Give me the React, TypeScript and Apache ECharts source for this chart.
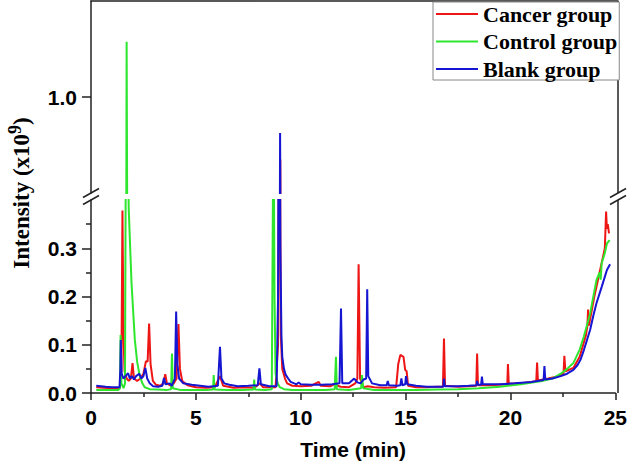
import React, { useEffect, useRef } from "react";
import * as echarts from "echarts";

const seriesNames = ["Cancer group", "Control group", "Blank group"];
const seriesColors = ["#ee1515", "#2ee62e", "#1515d2"];
const yLowerTicks = [0, 0.1, 0.2, 0.3];
const yUpperTicks = [1.0];

// [time (min), intensity (x10^9)]
const cancerGroup: number[][] = [
  [0.25, 0.012], [0.6, 0.011], [1.0, 0.01], [1.38, 0.01], [1.45, 0.05], [1.5, 0.378], [1.55, 0.12],
  [1.6, 0.045], [1.7, 0.03], [1.8, 0.025], [1.9, 0.03], [1.98, 0.062], [2.05, 0.03], [2.2, 0.025],
  [2.35, 0.03], [2.5, 0.04], [2.62, 0.066], [2.7, 0.065], [2.77, 0.144], [2.84, 0.06], [2.95, 0.025],
  [3.1, 0.017], [3.3, 0.015], [3.45, 0.02], [3.54, 0.039], [3.62, 0.02], [3.8, 0.015], [3.95, 0.02],
  [4.08, 0.03], [4.17, 0.143], [4.24, 0.05], [4.35, 0.025], [4.6, 0.016], [5.0, 0.012], [5.5, 0.011],
  [5.9, 0.012], [6.15, 0.035], [6.3, 0.015], [6.8, 0.011], [7.3, 0.012], [7.8, 0.011], [8.05, 0.02],
  [8.2, 0.012], [8.8, 0.012], [8.92, 0.1], [8.98, 0.87], [9.05, 0.12], [9.12, 0.05], [9.25, 0.03],
  [9.35, 0.02], [9.6, 0.015], [10.0, 0.014], [10.5, 0.015], [10.86, 0.023], [10.95, 0.015], [11.4, 0.014],
  [11.6, 0.018], [11.9, 0.013], [12.3, 0.012], [12.6, 0.02], [12.7, 0.03], [12.76, 0.267], [12.83, 0.03],
  [13.0, 0.012], [13.2, 0.014], [13.5, 0.012], [14.0, 0.011], [14.55, 0.012], [14.65, 0.06], [14.75, 0.079],
  [14.9, 0.075], [14.98, 0.048], [15.05, 0.045], [15.12, 0.015], [15.5, 0.012], [16.0, 0.012], [16.5, 0.013],
  [16.78, 0.013], [16.83, 0.113], [16.88, 0.015], [17.5, 0.013], [18.0, 0.014], [18.37, 0.015], [18.41, 0.082],
  [18.45, 0.016], [19.0, 0.016], [19.85, 0.018], [19.88, 0.06], [19.92, 0.019], [20.5, 0.02], [21.0, 0.023],
  [21.23, 0.025], [21.27, 0.063], [21.31, 0.026], [21.8, 0.03], [22.3, 0.035], [22.53, 0.04], [22.57, 0.077],
  [22.62, 0.045], [23.0, 0.052], [23.3, 0.075], [23.6, 0.12], [23.67, 0.14], [23.7, 0.173], [23.74, 0.14],
  [24.0, 0.2], [24.2, 0.24], [24.4, 0.28], [24.5, 0.3], [24.56, 0.376], [24.6, 0.34], [24.64, 0.35], [24.7, 0.331],
];

const controlGroup: number[][] = [
  [0.25, 0.006], [0.8, 0.006], [1.3, 0.006], [1.38, 0.01], [1.41, 0.12], [1.45, 0.02], [1.55, 0.01],
  [1.62, 0.02], [1.66, 0.5], [1.69, 1.115], [1.73, 0.6], [1.8, 0.38], [1.93, 0.23], [2.09, 0.11],
  [2.2, 0.065], [2.32, 0.036], [2.45, 0.02], [2.56, 0.012], [2.8, 0.008], [3.2, 0.007], [3.6, 0.006],
  [3.82, 0.008], [3.86, 0.082], [3.9, 0.01], [4.3, 0.006], [5.0, 0.006], [5.5, 0.006], [5.82, 0.007],
  [5.85, 0.037], [5.89, 0.007], [6.5, 0.006], [7.2, 0.006], [7.75, 0.007], [7.78, 0.028], [7.82, 0.007],
  [8.3, 0.006], [8.62, 0.008], [8.66, 0.3], [8.7, 0.62], [8.75, 0.2], [8.8, 0.04], [8.9, 0.02],
  [9.0, 0.012], [9.2, 0.008], [9.6, 0.006], [10.5, 0.006], [11.2, 0.006], [11.62, 0.008], [11.68, 0.075],
  [11.72, 0.008], [12.3, 0.006], [12.88, 0.01], [12.92, 0.037], [12.98, 0.01], [13.5, 0.006], [14.5, 0.006],
  [15.5, 0.006], [16.5, 0.007], [17.5, 0.008], [18.5, 0.01], [19.5, 0.013], [20.5, 0.018], [21.5, 0.025],
  [22.0, 0.03], [22.4, 0.04], [22.7, 0.05], [23.0, 0.062], [23.3, 0.09], [23.5, 0.117], [23.8, 0.165],
  [24.1, 0.234], [24.25, 0.25], [24.3, 0.235], [24.35, 0.269], [24.5, 0.29], [24.6, 0.31], [24.73, 0.317],
];

const blankGroup: number[][] = [
  [0.25, 0.015], [0.7, 0.013], [1.0, 0.012], [1.36, 0.012], [1.4, 0.05], [1.42, 0.11], [1.46, 0.04],
  [1.55, 0.03], [1.65, 0.035], [1.77, 0.041], [1.85, 0.03], [1.95, 0.035], [2.05, 0.028], [2.15, 0.035],
  [2.3, 0.04], [2.4, 0.03], [2.5, 0.035], [2.59, 0.052], [2.68, 0.03], [2.8, 0.02], [2.96, 0.014],
  [3.2, 0.013], [3.4, 0.015], [3.48, 0.031], [3.55, 0.018], [3.75, 0.02], [3.85, 0.015], [4.0, 0.03],
  [4.06, 0.169], [4.12, 0.06], [4.2, 0.03], [4.4, 0.02], [4.8, 0.017], [5.2, 0.015], [5.6, 0.013],
  [6.05, 0.015], [6.15, 0.096], [6.22, 0.03], [6.35, 0.02], [6.6, 0.017], [7.0, 0.014], [7.5, 0.015],
  [7.95, 0.016], [8.03, 0.051], [8.1, 0.018], [8.5, 0.014], [8.85, 0.014], [8.92, 0.2], [8.97, 0.925],
  [9.03, 0.3], [9.08, 0.12], [9.12, 0.075], [9.2, 0.05], [9.28, 0.038], [9.4, 0.03], [9.52, 0.023],
  [9.8, 0.018], [9.9, 0.022], [10.0, 0.018], [10.5, 0.017], [11.0, 0.017], [11.5, 0.018], [11.85, 0.02],
  [11.92, 0.175], [11.98, 0.02], [12.3, 0.02], [12.55, 0.03], [12.7, 0.022], [12.85, 0.02], [13.0, 0.028],
  [13.12, 0.03], [13.17, 0.215], [13.22, 0.035], [13.4, 0.02], [13.8, 0.016], [14.1, 0.016], [14.15, 0.025],
  [14.2, 0.016], [14.6, 0.015], [14.75, 0.016], [14.8, 0.03], [14.85, 0.016], [14.98, 0.018], [15.02, 0.035],
  [15.08, 0.018], [15.5, 0.015], [16.0, 0.013], [16.5, 0.013], [16.8, 0.013], [16.83, 0.03], [16.87, 0.014],
  [17.5, 0.014], [18.0, 0.015], [18.38, 0.016], [18.41, 0.025], [18.45, 0.017], [18.6, 0.017], [18.64, 0.034],
  [18.68, 0.018], [19.5, 0.018], [20.2, 0.02], [21.0, 0.023], [21.58, 0.027], [21.62, 0.056], [21.66, 0.028],
  [22.0, 0.03], [22.4, 0.035], [22.7, 0.04], [23.0, 0.048], [23.2, 0.058], [23.35, 0.07], [23.5, 0.089],
  [23.65, 0.11], [23.8, 0.131], [23.95, 0.16], [24.1, 0.186], [24.35, 0.22], [24.6, 0.255], [24.75, 0.267],
];

const groups = [cancerGroup, controlGroup, blankGroup];

const AXIS_COLOR = "#222";
const sansBold = { fontFamily: "Liberation Sans, Arial, sans-serif", fontWeight: "bold" as const, color: "#000" };
const serifBold = { fontFamily: "Liberation Serif, Times New Roman, serif", fontWeight: "bold" as const, color: "#000" };

export default function App() {
  const ref = useRef<HTMLDivElement>(null);
  useEffect(() => {
    if (!ref.current) return;
    const chart = echarts.init(ref.current, null, { renderer: "svg" });
    const axisLine = { show: true, lineStyle: { color: AXIS_COLOR, width: 1.5 } };
    const series: any[] = [];
    groups.forEach((data, i) => {
      [0, 1].forEach((g) => {
        series.push({
          name: seriesNames[i],
          type: "line",
          xAxisIndex: g,
          yAxisIndex: g,
          data,
          showSymbol: false,
          symbol: "none",
          clip: true,
          silent: true,
          color: seriesColors[i],
          lineStyle: { width: 2, color: seriesColors[i] },
        });
      });
    });
    const breakLine = (x1: number, y1: number, x2: number, y2: number) => ({
      type: "line",
      shape: { x1, y1, x2, y2 },
      style: { stroke: AXIS_COLOR, lineWidth: 1.5 },
    });
    chart.setOption({
      animation: false,
      backgroundColor: "#fff",
      grid: [
        { left: 91, right: 12, top: 1, height: 192 },
        { left: 91, right: 12, top: 200, height: 193 },
      ],
      xAxis: [
        {
          gridIndex: 0, type: "value", min: 0, max: 25, position: "top",
          axisLine, axisTick: { show: false }, axisLabel: { show: false }, splitLine: { show: false },
        },
        {
          gridIndex: 1, type: "value", min: 0, max: 25, interval: 5, position: "bottom",
          axisLine,
          axisTick: { show: true, inside: false, length: 7, lineStyle: { color: AXIS_COLOR, width: 1.5 } },
          minorTick: { show: true, splitNumber: 2, length: 4, lineStyle: { color: AXIS_COLOR, width: 1.5 } },
          axisLabel: { ...sansBold, fontSize: 21, margin: 14 },
          splitLine: { show: false },
          name: "Time (min)", nameLocation: "middle", nameGap: 46,
          nameTextStyle: { ...sansBold, fontSize: 21 },
        },
      ],
      yAxis: [
        {
          gridIndex: 0, type: "value", min: 0.8, max: 1.2, interval: 0.2,
          axisLine,
          axisTick: { show: true, length: 9, customValues: yUpperTicks, lineStyle: { color: AXIS_COLOR, width: 1.5 } },
          axisLabel: { ...sansBold, fontSize: 21, margin: 14, customValues: yUpperTicks, formatter: (v: number) => v.toFixed(1) },
          splitLine: { show: false },
        },
        {
          gridIndex: 1, type: "value", min: 0, max: 0.4, interval: 0.1,
          axisLine,
          axisTick: { show: true, length: 9, customValues: yLowerTicks, lineStyle: { color: AXIS_COLOR, width: 1.5 } },
          minorTick: { show: true, splitNumber: 2, length: 5, lineStyle: { color: AXIS_COLOR, width: 1.5 } },
          axisLabel: { ...sansBold, fontSize: 21, margin: 14, customValues: yLowerTicks, formatter: (v: number) => v.toFixed(1) },
          splitLine: { show: false },
        },
      ],
      legend: {
        data: seriesNames,
        orient: "vertical",
        left: 433,
        top: 2,
        icon: "rect",
        itemWidth: 42,
        itemHeight: 2,
        itemGap: 5.5,
        padding: [1, 2, 0, 3],
        borderColor: "#888",
        borderWidth: 1,
        backgroundColor: "#fff",
        textStyle: { ...serifBold, fontSize: 22 },
      },
      graphic: [
        {
          type: "text",
          x: 21,
          y: 193,
          rotation: Math.PI / 2,
          style: {
            text: "{a|Intensity (x10}{s|9}{a|)}",
            align: "center",
            verticalAlign: "middle",
            fill: "#000",
            rich: {
              a: { fontFamily: "Liberation Serif, serif", fontWeight: "bold", fontSize: 23, lineHeight: 30, fill: "#000" },
              s: { fontFamily: "Liberation Serif, serif", fontWeight: "bold", fontSize: 18, lineHeight: 18, verticalAlign: "top", fill: "#000" },
            },
          },
        },
        breakLine(83, 197.5, 99, 188.5),
        breakLine(83, 204.5, 99, 195.5),
        breakLine(610, 197.5, 626, 188.5),
        breakLine(610, 204.5, 626, 195.5),
        breakLine(618, 1, 618, 193),
        breakLine(618, 200, 618, 393),
      ],
      series,
    });
    return () => chart.dispose();
  }, []);
  return <div ref={ref} style={{ position: "absolute", left: 0, top: 0, width: 630, height: 466 }} />;
}
